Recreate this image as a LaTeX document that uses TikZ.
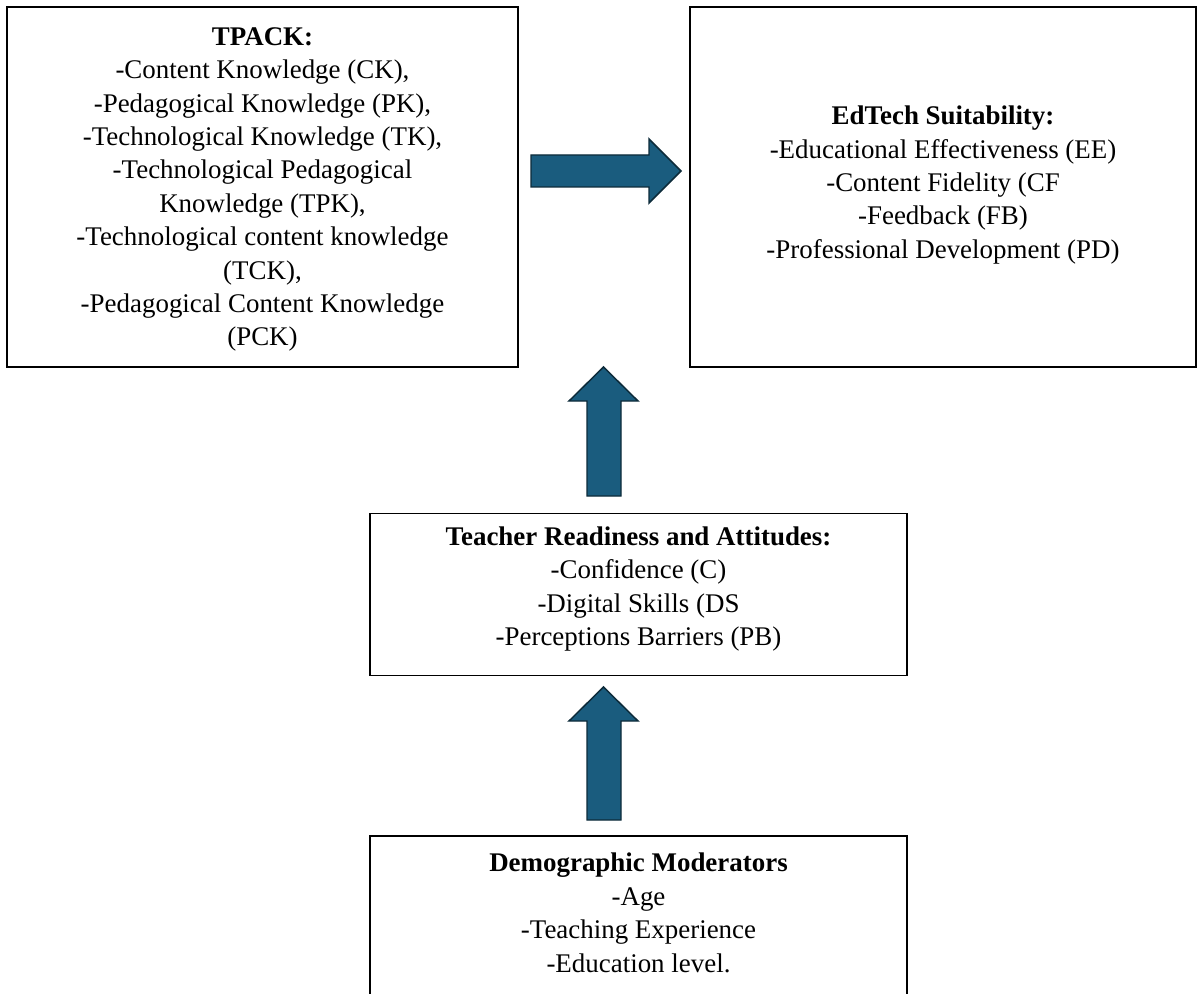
\documentclass[tikz,border=0pt]{standalone}
\usepackage{fontspec}
\setmainfont{Liberation Serif}
\definecolor{arrowfill}{HTML}{1A5C7E}
\definecolor{arrowline}{HTML}{0D2B3A}
\begin{document}
\begin{tikzpicture}[x=0.75pt,y=-0.75pt,
  box/.style={draw=black, line width=1.1pt, fill=white, inner sep=0pt},
  txt/.style={align=center, inner sep=0pt, font=\fontsize{20.2}{25.05}\selectfont},
  blockarrow/.style={fill=arrowfill, draw=arrowline, line width=1.1pt, line join=miter}]
\clip (0,0) rectangle (1201,994);
\fill[white] (0,0) rectangle (1201,994);

% TPACK box
\node[box, minimum width={511*0.75pt}, minimum height={360*0.75pt}] (tpack) at (262.5,187) {};
\node[txt] (tpacktxt) at (262.5,189.5)
 {\textbf{TPACK:}\\-Content Knowledge (CK),\\-Pedagogical Knowledge (PK),\\-Technological Knowledge (TK),\\-Technological Pedagogical\\Knowledge (TPK),\\-Technological content knowledge\\(TCK),\\-Pedagogical Content Knowledge\\(PCK)};

% EdTech box
\node[box, minimum width={506*0.75pt}, minimum height={360*0.75pt}] (edtech) at (943,187) {};
\node[txt] (edtechtxt) at (943,185)
 {\textbf{EdTech Suitability:}\\-Educational Effectiveness (EE)\\-Content Fidelity (CF\\-Feedback (FB)\\-Professional Development (PD)};

% Teacher box
\node[box, minimum width={537*0.75pt}, minimum height={162*0.75pt}] (teacher) at (638.5,594.5) {};
\node[txt] (teachertxt) at (638.5,589)
 {\textbf{Teacher Readiness and Attitudes:}\\-Confidence (C)\\-Digital Skills (DS\\-Perceptions Barriers (PB)};

% Demographic box (bottom edge outside the picture)
\coordinate (demoNW) at (370,836);
\coordinate (demoNE) at (907,836);
\coordinate (demoSW) at (370,1010);
\coordinate (demoSE) at (907,1010);
\draw[line width=1.1pt] (demoSW) -- (demoNW) -- (demoNE) -- (demoSE);
\node[txt, anchor=north] (demo) at (638.5,853)
 {\textbf{Demographic Moderators}\\-Age\\-Teaching Experience\\-Education level.};

% block arrows
\draw[blockarrow] (531,155) -- (649,155) -- (649,139) -- (681,171) -- (649,203) -- (649,187) -- (531,187) -- cycle;
\draw[blockarrow] (587,496) -- (587,401) -- (569,401) -- (603.5,367) -- (638,401) -- (621,401) -- (621,496) -- cycle;
\draw[blockarrow] (587,820) -- (587,721) -- (569,721) -- (603.5,687) -- (638,721) -- (621,721) -- (621,820) -- cycle;
\end{tikzpicture}
\end{document}
